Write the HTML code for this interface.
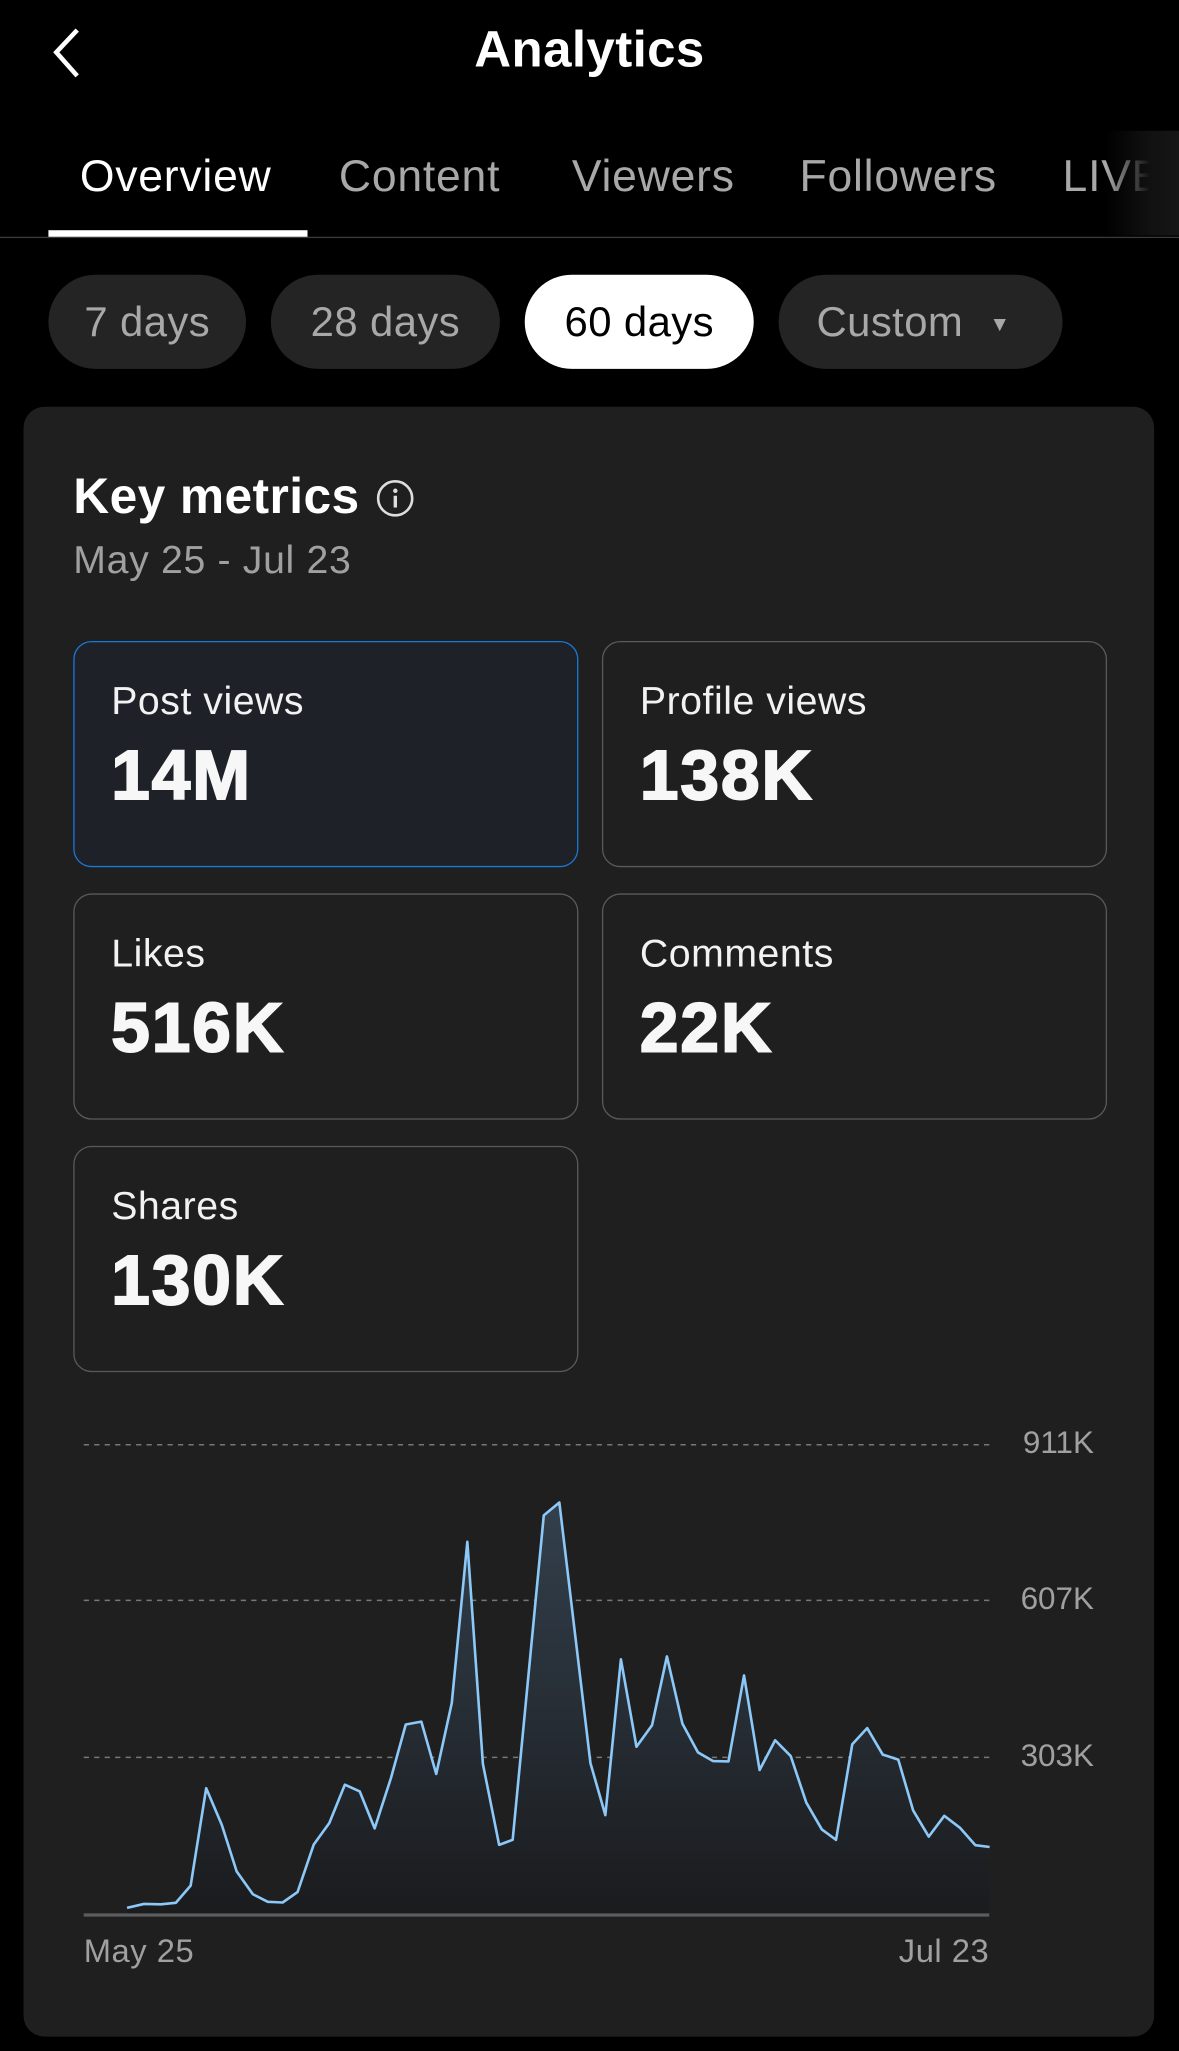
<!DOCTYPE html>
<html><head><meta charset="utf-8"><style>
html,body{margin:0;padding:0;background:#000;}
body{width:1179px;height:2051px;overflow:hidden;font-family:"Liberation Sans",sans-serif;}
#w{position:absolute;left:0;top:0;width:901px;height:1568px;transform:scale(1.30855,1.30804);transform-origin:0 0;}
.a{position:absolute;white-space:nowrap;}
.tab{position:absolute;top:115px;font-size:34px;letter-spacing:0.6px;color:#a8a8a8;line-height:40px;}
.pill{position:absolute;top:210px;height:72px;border-radius:36px;background:#242424;color:#a8a8a8;font-size:32px;letter-spacing:0.3px;line-height:72px;text-align:center;}
.box{position:absolute;width:386px;height:173px;border:1.5px solid #5a5a5a;border-radius:14px;box-sizing:border-box;}
.lb{position:absolute;left:28px;top:29px;font-size:30px;letter-spacing:0.4px;color:#f2f2f2;}
.vl{position:absolute;left:28px;top:72px;font-size:53px;font-weight:bold;color:#f7f7f7;-webkit-text-stroke:1.5px #f7f7f7;letter-spacing:1.5px;}
.yl{position:absolute;right:65px;font-size:24px;color:#a0a0a0;}
</style></head><body><div id="w">
<svg class="a" style="left:36px;top:20px" width="30" height="42"><polyline points="23,3 7,20 23,38" fill="none" stroke="#fff" stroke-width="3.5"/></svg>
<div class="a" style="left:0;width:901px;text-align:center;top:17px;font-size:39px;letter-spacing:0.3px;font-weight:bold;color:#fff;">Analytics</div>
<div class="tab" style="left:61px;color:#fff">Overview</div>
<div class="tab" style="left:259px">Content</div>
<div class="tab" style="left:437px">Viewers</div>
<div class="tab" style="left:611px">Followers</div>
<div class="tab" style="left:812px">LIVE</div>
<div class="a" style="left:845px;top:100px;width:56px;height:80px;background:linear-gradient(90deg,rgba(0,0,0,0),#111 60%,#161616)"></div>
<div class="a" style="left:0;top:180.5px;width:901px;height:1px;background:#3a3a3a"></div>
<div class="a" style="left:37px;top:176px;width:198px;height:5px;background:#fff"></div>
<div class="pill" style="left:37px;width:151px">7 days</div>
<div class="pill" style="left:207px;width:175px">28 days</div>
<div class="pill" style="left:401px;width:175px;background:#fff;color:#000">60 days</div>
<div class="pill" style="left:595px;width:217px;text-align:left;"><span style="margin-left:29px">Custom</span><span style="font-size:16px;margin-left:20px;position:relative;top:-4px">▼</span></div>
<div class="a" style="left:18px;top:311px;width:864px;height:1246px;background:#1f1f1f;border-radius:16px"></div>
<div class="a" style="left:56px;top:359px;font-size:38px;letter-spacing:0.3px;font-weight:bold;color:#fff">Key metrics</div>
<svg class="a" style="left:287px;top:366px" width="32" height="32"><circle cx="15" cy="15" r="13" fill="none" stroke="#ddd" stroke-width="2"/><rect x="13.8" y="13" width="2.6" height="9" fill="#ddd"/><circle cx="15.1" cy="9.2" r="1.7" fill="#ddd"/></svg>
<div class="a" style="left:56px;top:412px;font-size:30px;letter-spacing:0.5px;color:#a0a0a0">May 25 - Jul 23</div>
<div class="box" style="left:56px;top:490px;border-color:#1a78d6;background:#1e2127"><div class="lb">Post views</div><div class="vl">14M</div></div>
<div class="box" style="left:460px;top:490px"><div class="lb">Profile views</div><div class="vl">138K</div></div>
<div class="box" style="left:56px;top:683px"><div class="lb">Likes</div><div class="vl">516K</div></div>
<div class="box" style="left:460px;top:683px"><div class="lb">Comments</div><div class="vl">22K</div></div>
<div class="box" style="left:56px;top:876px"><div class="lb">Shares</div><div class="vl">130K</div></div>
<svg class="a" style="left:0;top:0" width="901" height="1568">
<defs><linearGradient id="g" x1="0" y1="0" x2="0" y2="1"><stop offset="0" stop-color="#33404d"/><stop offset="1" stop-color="#1a1b1d"/></linearGradient></defs>
<g stroke="#777" stroke-width="1.2" stroke-dasharray="4,4"><line x1="64" y1="1104.5" x2="756" y2="1104.5"/><line x1="64" y1="1223.5" x2="756" y2="1223.5"/><line x1="64" y1="1343.5" x2="756" y2="1343.5"/></g>
<g transform="translate(45.39,1069.23) scale(0.517,0.2738)">
<polygon fill="url(#g)" points="100,1445 100,1422 125,1411 150,1412 172,1408 194,1360 217,1088 240,1190 262,1320 286,1384 308,1405 330,1407 352,1378 376,1245 399,1185 422,1078 444,1097 466,1200 490,1060 512,910 535,902 557,1048 580,850 603,400 626,1020 650,1246 670,1232 716,326 739,290 785,1018 807,1163 830,728 853,972 876,912 898,720 921,908 944,988 966,1012 989,1013 1012,773 1035,1037 1058,954 1081,998 1104,1128 1127,1203 1148,1232 1172,965 1194,920 1217,994 1240,1008 1262,1150 1285,1223 1308,1165 1331,1198 1354,1247 1375,1252 1375,1445"/>
<polyline fill="none" stroke="#8cc8f8" stroke-width="2" vector-effect="non-scaling-stroke" stroke-linejoin="round" points="100,1422 125,1411 150,1412 172,1408 194,1360 217,1088 240,1190 262,1320 286,1384 308,1405 330,1407 352,1378 376,1245 399,1185 422,1078 444,1097 466,1200 490,1060 512,910 535,902 557,1048 580,850 603,400 626,1020 650,1246 670,1232 716,326 739,290 785,1018 807,1163 830,728 853,972 876,912 898,720 921,908 944,988 966,1012 989,1013 1012,773 1035,1037 1058,954 1081,998 1104,1128 1127,1203 1148,1232 1172,965 1194,920 1217,994 1240,1008 1262,1150 1285,1223 1308,1165 1331,1198 1354,1247 1375,1252"/>
</g>
<line x1="64" y1="1464" x2="756" y2="1464" stroke="#5c5c5c" stroke-width="2.5"/>
</svg>
<div class="yl" style="top:1090px">911K</div>
<div class="yl" style="top:1209px">607K</div>
<div class="yl" style="top:1329px">303K</div>
<div class="a" style="left:64px;top:1478px;font-size:25px;letter-spacing:0.4px;color:#a0a0a0">May 25</div>
<div class="a" style="right:145px;top:1478px;font-size:25px;letter-spacing:0.4px;color:#a0a0a0">Jul 23</div>
</div></body></html>
